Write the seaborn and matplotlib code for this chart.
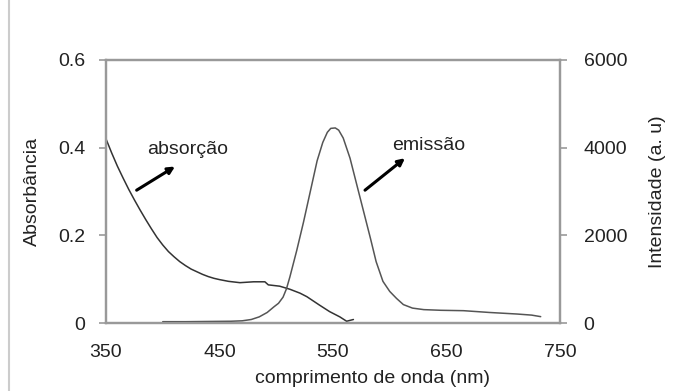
import matplotlib
matplotlib.use("Agg")
import matplotlib.pyplot as plt
import seaborn as sns
import pandas as pd
from matplotlib.lines import Line2D

# ---- data ----
wl_abs = [350, 355, 360, 365, 370, 375, 380, 385, 390, 395, 400, 405, 410, 415, 420,
          425, 430, 435, 440, 445, 450, 458, 468, 480, 490, 493, 503, 512, 521, 527,
          538, 547, 556, 562, 565, 568]
absorbance = [0.420, 0.388, 0.358, 0.331, 0.305, 0.281, 0.258, 0.236, 0.215, 0.195,
              0.178, 0.163, 0.151, 0.140, 0.131, 0.123, 0.117, 0.111, 0.106, 0.102,
              0.099, 0.095, 0.092, 0.094, 0.094, 0.087, 0.084, 0.077, 0.068, 0.060,
              0.041, 0.026, 0.014, 0.004, 0.006, 0.008]

wl_em = [400, 420, 440, 460, 470, 478, 485, 492, 498, 502, 506, 509, 512, 518, 524,
         530, 536, 541, 545, 548, 552, 555, 559, 565, 571, 577, 583, 588, 594, 600,
         606, 612, 620, 630, 645, 665, 688, 712, 725, 733]
intensity = [30, 30, 35, 40, 50, 80, 140, 240, 370, 450, 590, 780, 1050, 1650, 2300,
             3000, 3700, 4120, 4350, 4440, 4450, 4400, 4220, 3760, 3150, 2540, 1930, 1400, 950, 720,
             560, 420, 340, 305, 290, 281, 240, 205, 180, 145]

x_ticks = [350, 450, 550, 650, 750]
left_ticks = [0, 0.2, 0.4, 0.6]
left_labels = ["0", "0.2", "0.4", "0.6"]
right_ticks = [0, 2000, 4000, 6000]
right_labels = ["0", "2000", "4000", "6000"]

df_abs = pd.DataFrame({"wl": wl_abs, "val": absorbance})
df_em = pd.DataFrame({"wl": wl_em, "val": intensity})

sns.set_style("white")
plt.rcParams["font.family"] = ["Liberation Sans", "DejaVu Sans"]
plt.rcParams["font.size"] = 14

fig = plt.figure(figsize=(6.73, 3.91), dpi=100)
ax = fig.add_axes([106 / 673, (391 - 323) / 391, 454 / 673, 263 / 391])
ax2 = ax.twinx()

sns.lineplot(data=df_abs, x="wl", y="val", ax=ax, color="#333333", lw=1.1)
sns.lineplot(data=df_em, x="wl", y="val", ax=ax2, color="#555555", lw=1.1)

ax.set_xlim(350, 750)
ax.set_ylim(0, 0.6)
ax2.set_ylim(0, 6000)
ax.set_xticks(x_ticks)
ax.set_xticklabels([str(v) for v in x_ticks])
ax.set_yticks(left_ticks)
ax.set_yticklabels(left_labels)
ax2.set_yticks(right_ticks)
ax2.set_yticklabels(right_labels)

ax.set_xlabel("comprimento de onda (nm)", color="#222222")
ax.xaxis.set_label_coords(0.586, -0.18)
ax.set_ylabel("Absorbância", color="#222222", labelpad=12)
ax2.set_ylabel("Intensidade (a. u)", color="#222222", labelpad=16)

for a in (ax, ax2):
    for s in a.spines.values():
        s.set_color("#999999")
        s.set_linewidth(1.6)
        s.set_visible(True)
    a.tick_params(colors="#999999", labelcolor="#222222", length=5, width=1.2,
                  direction="out", labelsize=14)
ax.tick_params(axis="x", pad=10)
ax.tick_params(axis="y", pad=10, left=True)
ax2.tick_params(axis="y", pad=12, right=True)

ax.annotate("", xy=(410.8, 0.357), xytext=(377, 0.303),
            arrowprops=dict(arrowstyle="-|>", color="black", lw=2.2,
                            mutation_scale=10, shrinkA=0, shrinkB=0))
ax.text(422, 0.395, "absorção", ha="center", va="center", color="#222222", fontsize=14)
ax.annotate("", xy=(613.4, 0.376), xytext=(578.2, 0.303),
            arrowprops=dict(arrowstyle="-|>", color="black", lw=2.2,
                            mutation_scale=10, shrinkA=0, shrinkB=0))
ax.text(634, 0.404, "emissão", ha="center", va="center", color="#222222", fontsize=14)

fig.add_artist(Line2D([9 / 673, 9 / 673], [0, 1], color="#cccccc", lw=1.5))

fig.savefig("out.png", dpi=100)
